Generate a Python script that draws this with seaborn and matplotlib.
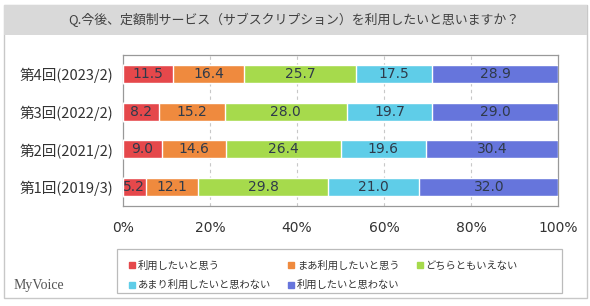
import numpy as np
import pandas as pd
import matplotlib.pyplot as plt
import matplotlib.patches as mpatches
from matplotlib.lines import Line2D
import seaborn as sns

# data
waves = ['第4回(2023/2)', '第3回(2022/2)', '第2回(2021/2)', '第1回(2019/3)']
answers = ['利用したいと思う', 'まあ利用したいと思う', 'どちらともいえない',
           'あまり利用したいと思わない', '利用したいと思わない']
v_yes = [11.5, 8.2, 9.0, 5.2]
v_maybe = [16.4, 15.2, 14.6, 12.1]
v_neutral = [25.7, 28.0, 26.4, 29.8]
v_rather_not = [17.5, 19.7, 19.6, 21.0]
v_no = [28.9, 29.0, 30.4, 32.0]
colors = ['#e5484b', '#ef8a3e', '#a6da4c', '#5fcde8', '#6675dc']
ticks = [0, 20, 40, 60, 80, 100]

sns.set_theme(style='white')
plt.rcParams['font.family'] = ['Noto Sans CJK JP', 'DejaVu Sans']

vals = np.array([v_yes, v_maybe, v_neutral, v_rather_not, v_no])
cum = vals.cumsum(axis=0)

W, H = 590, 306
fig = plt.figure(figsize=(W / 100, H / 100), dpi=100)
fig.patch.set_facecolor('white')

# outer frame and title band
fig.patches.append(mpatches.Rectangle((4 / W, 8 / H), 583 / W, 293 / H, transform=fig.transFigure,
                                      fill=False, edgecolor='#c8c8c8', lw=1))
fig.patches.append(mpatches.Rectangle((4 / W, 1 - 35 / H), 583 / W, 30 / H, transform=fig.transFigure,
                                      facecolor='#d9d9d9', edgecolor='none'))
fig.text(294 / W, 1 - 20 / H, 'Q.今後、定額制サービス（サブスクリプション）を利用したいと思いますか？',
         ha='center', va='center', fontsize=9.3, color='#404040')

ax = fig.add_axes([123 / W, 1 - 206 / H, 435 / W, 151 / H])

# stacked bars: draw cumulative totals from the longest down
for i in range(len(answers) - 1, -1, -1):
    df = pd.DataFrame({'wave': waves, 'value': cum[i]})
    sns.barplot(data=df, x='value', y='wave', orient='h', color=colors[i],
                saturation=1, width=0.48, ax=ax, zorder=3)

for i in range(len(answers)):
    for j in range(len(waves)):
        ax.text(cum[i, j] - vals[i, j] / 2, j, f'{vals[i, j]:.1f}', ha='center', va='center',
                fontsize=10, color='#2f3a4a', family='DejaVu Sans', zorder=5)

ax.set_xlim(0, 100)
ax.set_ylim(3.5, -0.5)
ax.set_xticks(ticks)
ax.set_xticklabels([f'{t}%' for t in ticks], family='DejaVu Sans')
ax.tick_params(axis='x', labelsize=10, colors='#333333', pad=11, length=0)
ax.tick_params(axis='y', labelsize=10.5, colors='#333333', pad=7, length=0)
ax.set_xlabel('')
ax.set_ylabel('')
for t in ticks[1:-1]:
    ax.axvline(t, color='#c8c8c8', lw=0.8, ls=(0, (3, 3)), zorder=1)
for s in ax.spines.values():
    s.set_edgecolor('#999999')
    s.set_linewidth(0.9)

# legend: row-wise order in 3 columns, with its own frame box
fig.patches.append(mpatches.Rectangle((117 / W, 1 - 293 / H), 445 / W, 44 / H, transform=fig.transFigure,
                                      fill=False, edgecolor='#bbbbbb', lw=0.9))
handles = [Line2D([], [], marker='s', ls='', color=c, markersize=5) for c in colors]
order = [0, 3, 1, 4, 2]
leg = fig.legend([handles[k] for k in order], [answers[k] for k in order], ncol=3,
                 loc='upper left', bbox_to_anchor=(117 / W, 1 - 250 / H), fontsize=7.4,
                 frameon=False, handletextpad=0.1, columnspacing=1.5, borderpad=0.55,
                 labelspacing=0.9, handlelength=0.9)
for t in leg.get_texts():
    t.set_color('#333333')

fig.text(14 / W, 1 - 286 / H, 'MyVoice', fontsize=10, color='#555555', family='Liberation Serif',
         ha='left', va='center')

fig.savefig('out.png', dpi=100)
